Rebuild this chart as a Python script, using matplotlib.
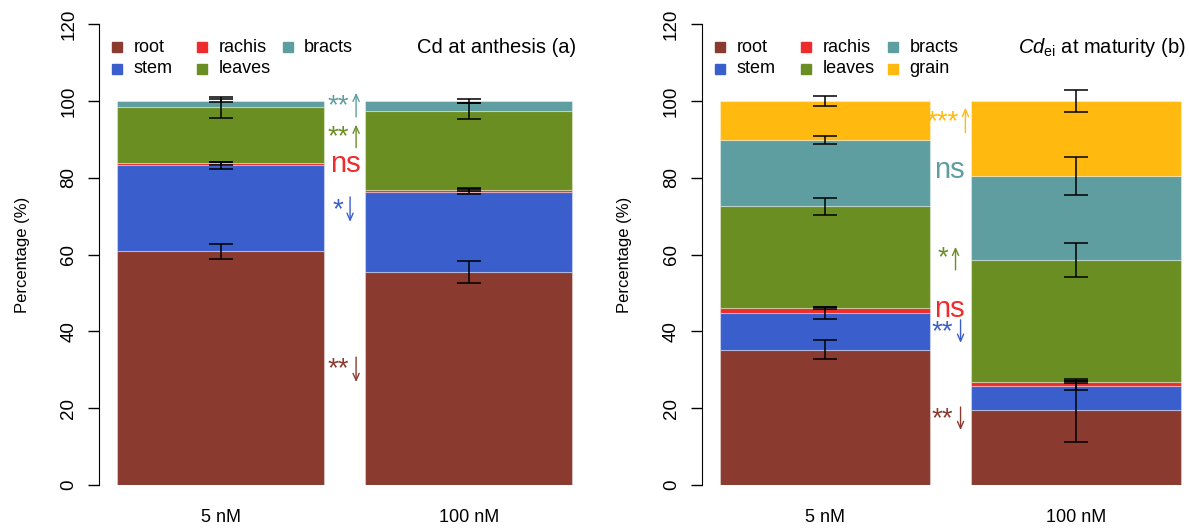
import numpy as np
import matplotlib
matplotlib.use("Agg")
import matplotlib.pyplot as plt

plt.rcParams['font.family'] = ['Liberation Sans', 'DejaVu Sans']
plt.rcParams['mathtext.fontset'] = 'custom'
plt.rcParams['mathtext.rm'] = 'Liberation Sans'
plt.rcParams['mathtext.it'] = 'Liberation Sans:italic'

# === data ===
groups = ["5 nM", "100 nM"]

parts_a = ["root", "stem", "rachis", "leaves", "bracts"]
a_5nM = [60.8, 22.4, 0.5, 14.6, 1.7]
a_100nM = [55.4, 20.9, 0.6, 20.4, 2.7]
a_5nM_err = [2.0, 0.9, 0.3, 2.7, 0.4]
a_100nM_err = [2.9, 0.65, 0.3, 2.1, 0.5]

parts_b = ["root", "stem", "rachis", "leaves", "bracts", "grain"]
b_5nM = [35.2, 9.6, 1.3, 26.4, 17.3, 10.2]
b_100nM = [19.5, 6.4, 0.9, 31.8, 21.8, 19.6]
b_5nM_err = [2.5, 1.6, 0.3, 2.1, 1.1, 1.35]
b_100nM_err = [8.2, 1.1, 0.3, 4.4, 5.0, 2.8]

# significance marks: (text, part, x, y, arrow_x, y_from, y_to)
sig_a = [("**", "bracts", 1.268, 101.3, 1.355, 95.8, 102.1),
         ("**", "leaves", 1.268, 93.0, 1.355, 87.8, 93.8),
         ("ns", "rachis", 1.301, 83.6, None, None, None),
         ("*", "stem", 1.268, 74.2, 1.326, 75.0, 68.5),
         ("**", "root", 1.268, 32.6, 1.355, 33.3, 26.8)]
sig_b = [("***", "grain", 1.262, 97.1, 1.371, 91.7, 98.2),
         ("ns", "bracts", 1.295, 81.8, None, None, None),
         ("*", "leaves", 1.262, 61.5, 1.324, 56.0, 62.0),
         ("ns", "rachis", 1.295, 45.8, None, None, None),
         ("**", "stem", 1.262, 42.4, 1.348, 43.0, 37.0),
         ("**", "root", 1.262, 19.8, 1.348, 20.3, 14.3)]

colors = {"root": "#8B3A30", "stem": "#3A5FCD", "rachis": "#EE2C2C",
          "leaves": "#6B8E23", "bracts": "#5F9EA0", "grain": "#FFB90F"}

W, H = 1189, 529
fig = plt.figure(figsize=(W / 100, H / 100), dpi=100)

x_pos = np.array([0.7, 1.9])


def panel(rect, parts, vals, errs, sigs, title):
    # vals / errs: one row per group
    ax = fig.add_axes(rect)
    vals = np.array(vals).T
    errs = np.array(errs).T
    tops = np.cumsum(vals, axis=0)
    bottoms = tops - vals
    for i, p in enumerate(parts):
        ax.bar(x_pos, vals[i], width=1.0, bottom=bottoms[i], color=colors[p],
               edgecolor=(1, 1, 1, 0.35), linewidth=0.8, zorder=1)
    for i, p in enumerate(parts):
        ax.errorbar(x_pos, tops[i], yerr=errs[i], fmt="none", ecolor="black",
                    elinewidth=1.1, capsize=8.3, capthick=1.1, zorder=3)

    # legend drawn by hand (R style equal-width columns)
    for i, p in enumerate(parts):
        cx = 0.2 + (i // 2) * 0.412
        cy = 114.0 - (i % 2) * 5.7
        ax.plot([cx], [cy], marker="s", ms=6.5, color=colors[p], ls="none")
        ax.text(cx + 0.08, cy, p, fontsize=13, va="center", ha="left")
    ax.text(2.42, 114.0, title, fontsize=14.5, va="center", ha="right")

    for txt, p, x, y, ax_x, y0, y1 in sigs:
        if txt == "ns":
            ax.text(x, y - 2.0, txt, color=colors[p], fontsize=21,
                    ha="center", va="baseline")
        else:
            ax.text(x, y - 4.4, txt, color=colors[p], fontsize=20,
                    ha="center", va="baseline")
            ax.annotate("", xy=(ax_x, y1), xytext=(ax_x, y0),
                        arrowprops=dict(arrowstyle="->,head_length=0.5,head_width=0.22",
                                        color=colors[p], lw=1.0,
                                        shrinkA=0, shrinkB=0))

    ax.set_xlim(0.112, 2.488)
    ax.set_ylim(0, 120)
    ax.set_yticks([0, 20, 40, 60, 80, 100, 120])
    ax.set_xticks(x_pos)
    ax.set_xticklabels(groups, fontsize=13)
    ax.tick_params(axis="x", length=0, pad=17)
    ax.tick_params(axis="y", length=8, width=1.0, pad=7.5, labelsize=13.5,
                   labelrotation=90)
    for lab in ax.get_yticklabels():
        lab.set_va("center")
    for s in ["top", "right", "bottom"]:
        ax.spines[s].set_visible(False)
    ax.spines["left"].set_bounds(0, 120)
    ax.set_ylabel("Percentage (%)", fontsize=12, labelpad=22)
    return ax


bot = (H - 485) / H
hgt = (485 - 24) / H
axa = panel([98.8 / W, bot, (590.6 - 98.8) / W, hgt], parts_a,
            [a_5nM, a_100nM], [a_5nM_err, a_100nM_err], sig_a,
            "Cd at anthesis (a)")
axb = panel([701.5 / W, bot, (1199.5 - 701.5) / W, hgt], parts_b,
            [b_5nM, b_100nM], [b_5nM_err, b_100nM_err], sig_b,
            r"$Cd_{\mathrm{ei}}$ at maturity (b)")

fig.savefig("out.png", dpi=100)
